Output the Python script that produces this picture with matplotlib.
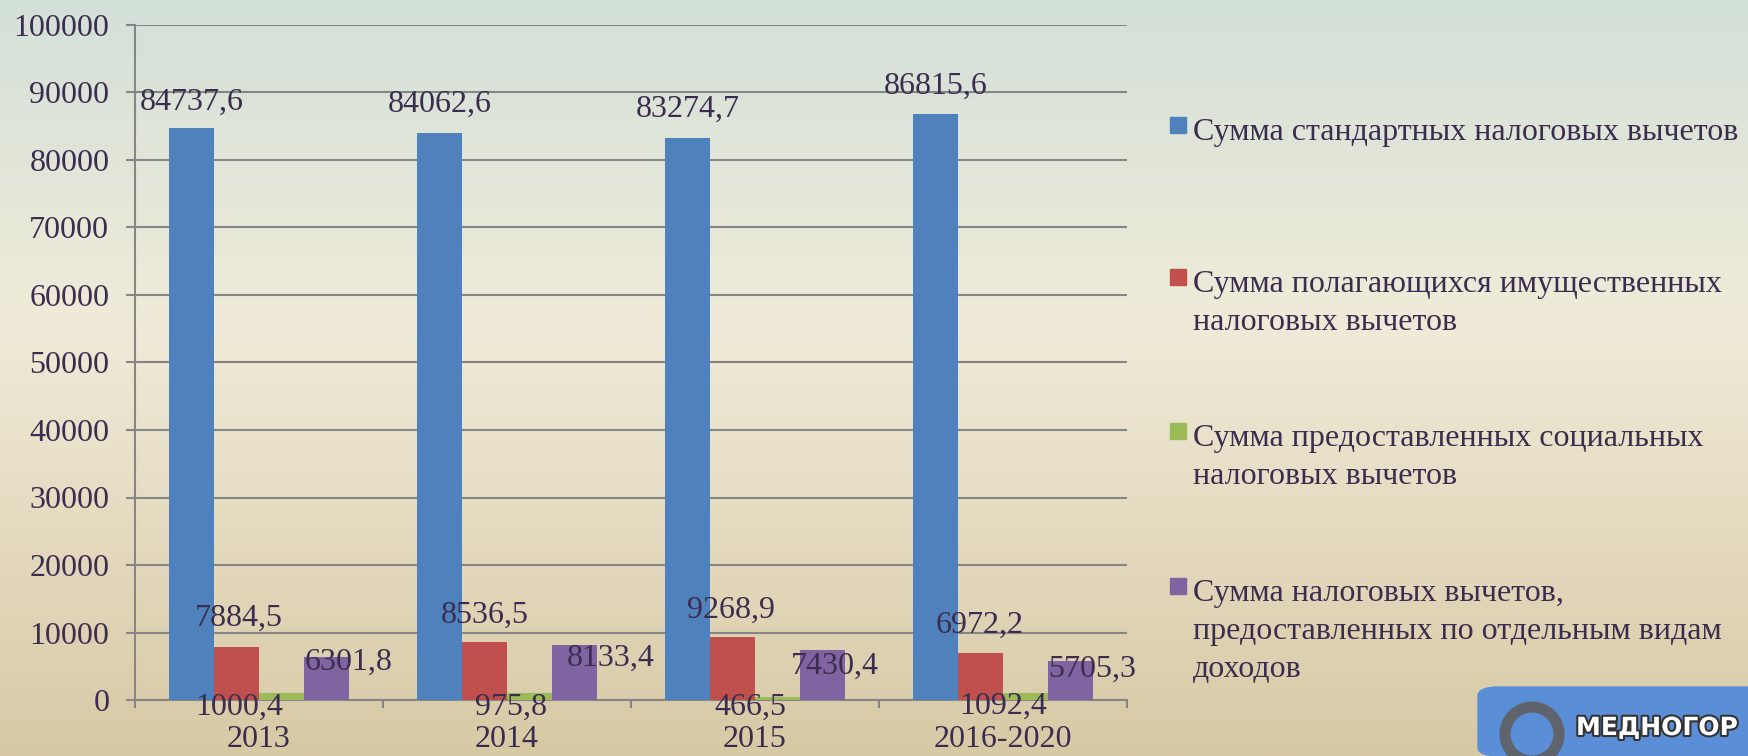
import matplotlib

matplotlib.use("Agg")
import matplotlib.pyplot as plt
import numpy as np
from matplotlib.colors import LinearSegmentedColormap
from matplotlib.patches import Rectangle, FancyBboxPatch, Circle
import matplotlib.patheffects as pe

plt.rcParams["font.family"] = ["Liberation Serif", "DejaVu Serif"]

CATEGORIES = ["2013", "2014", "2015", "2016-2020"]
SERIES_NAMES = [
    "Сумма стандартных налоговых вычетов",
    "Сумма полагающихся имущественных\nналоговых вычетов",
    "Сумма предоставленных социальных\nналоговых вычетов",
    "Сумма налоговых вычетов,\nпредоставленных по отдельным видам\nдоходов",
]
STANDARD = [84737.6, 84062.6, 83274.7, 86815.6]
PROPERTY = [7884.5, 8536.5, 9268.9, 6972.2]
SOCIAL = [1000.4, 975.8, 466.5, 1092.4]
SEPARATE = [6301.8, 8133.4, 7430.4, 5705.3]

COLORS = ["#4f81bd", "#c0504d", "#9bbb59", "#8064a2"]
TEXT_COLOR = "#3b2d4f"
GRID_COLOR = "#868686"
FONT_SIZE = 23

# label offsets in pixels (dx, dy) from the top centre of each bar
LABEL_OFFSETS = [
    [(0, 26), (0, 28), (0, 29), (0, 28)],
    [(2, 28), (0, 27), (-1, 27), (-1, 28)],
    [(-42, -14), (-19, -14), (-27, -10), (-22, -14)],
    [(22, -5), (36, -13), (12, -16), (21, -8)],
]

W, H = 1748, 756
fig = plt.figure(figsize=(W / 100, H / 100), dpi=100)

# background gradient
bg = fig.add_axes([0, 0, 1, 1], zorder=-10)
cmap = LinearSegmentedColormap.from_list(
    "bg", [(0.0, "#d3e0d8"), (0.42, "#f0ebd9"), (1.0, "#d8c9a5")]
)
bg.imshow(np.linspace(0, 1, 256).reshape(-1, 1), aspect="auto", cmap=cmap,
          extent=(0, 1, 0, 1))
bg.set_axis_off()

ax = fig.add_axes([135 / W, 1 - 700 / H, (1127 - 135) / W, 675 / H])
ax.set_facecolor("none")

values = [STANDARD, PROPERTY, SOCIAL, SEPARATE]
x = np.arange(len(CATEGORIES))
width = 1 / 5.5
for i, (vals, color) in enumerate(zip(values, COLORS)):
    xs = x + (i - 1.5) * width
    ax.bar(xs, vals, width=width, color=color, zorder=3)
    for j, (xv, v) in enumerate(zip(xs, vals)):
        dx, dy = LABEL_OFFSETS[i][j]
        ax.annotate(f"{v:.1f}".replace(".", ","), (xv, v), xytext=(dx, dy),
                    textcoords="offset pixels", ha="center", va="center",
                    fontsize=FONT_SIZE, color=TEXT_COLOR, zorder=5)

ax.set_xlim(-0.5, len(CATEGORIES) - 0.5)
ax.set_ylim(0, 100000)
ax.set_yticks(np.arange(0, 100001, 10000))
ax.set_yticklabels([str(v) for v in range(0, 100001, 10000)])
ax.set_xticks(x)
ax.set_xticklabels(CATEGORIES)
ax.set_xticks(np.arange(-0.5, len(CATEGORIES)), minor=True)
ax.tick_params(axis="x", which="major", length=0, pad=18, labelsize=FONT_SIZE,
               colors=TEXT_COLOR)
ax.tick_params(axis="x", which="minor", length=6, width=1.5, color=GRID_COLOR)
ax.tick_params(axis="y", length=6.5, width=1.5, color=GRID_COLOR, pad=12,
               labelsize=FONT_SIZE, labelcolor=TEXT_COLOR)
ax.grid(True, axis="y", color=GRID_COLOR, linewidth=1.5, zorder=0)
for side in ["top", "right"]:
    ax.spines[side].set_visible(False)
for side in ["left", "bottom"]:
    ax.spines[side].set_color(GRID_COLOR)
    ax.spines[side].set_linewidth(1.5)

# legend, drawn by hand to get Excel's even spacing
first_baseline = [138, 290, 444, 599]
for name, color, y in zip(SERIES_NAMES, COLORS, first_baseline):
    fig.patches.append(Rectangle((1170 / W, 1 - (y - 5) / H), 16 / W, 16 / H,
                                 transform=fig.transFigure, color=color))
    fig.text(1193 / W, 1 - (y - 20) / H, name, ha="left", va="top",
             fontsize=FONT_SIZE, color=TEXT_COLOR, linespacing=1.42)

# corner logo
fig.patches.append(FancyBboxPatch((1478 / W, 0), 300 / W, 69 / H,
                                  boxstyle="round,pad=0,rounding_size=0.012",
                                  transform=fig.transFigure, color="#5a8fd8",
                                  zorder=1))
fig.patches.append(Circle((15.32, 0.22), 0.27, fill=False,
                          transform=fig.dpi_scale_trans, lw=8, ec="#5f636b",
                          zorder=2))
fig.text(1576 / W, 1 - 728 / H, "МЕДНОГОР", fontsize=18, fontweight="bold",
         family="DejaVu Sans", color="white", va="center", ha="left",
         path_effects=[pe.withStroke(linewidth=3, foreground="#333333")])

fig.savefig("out.png", dpi=100)
